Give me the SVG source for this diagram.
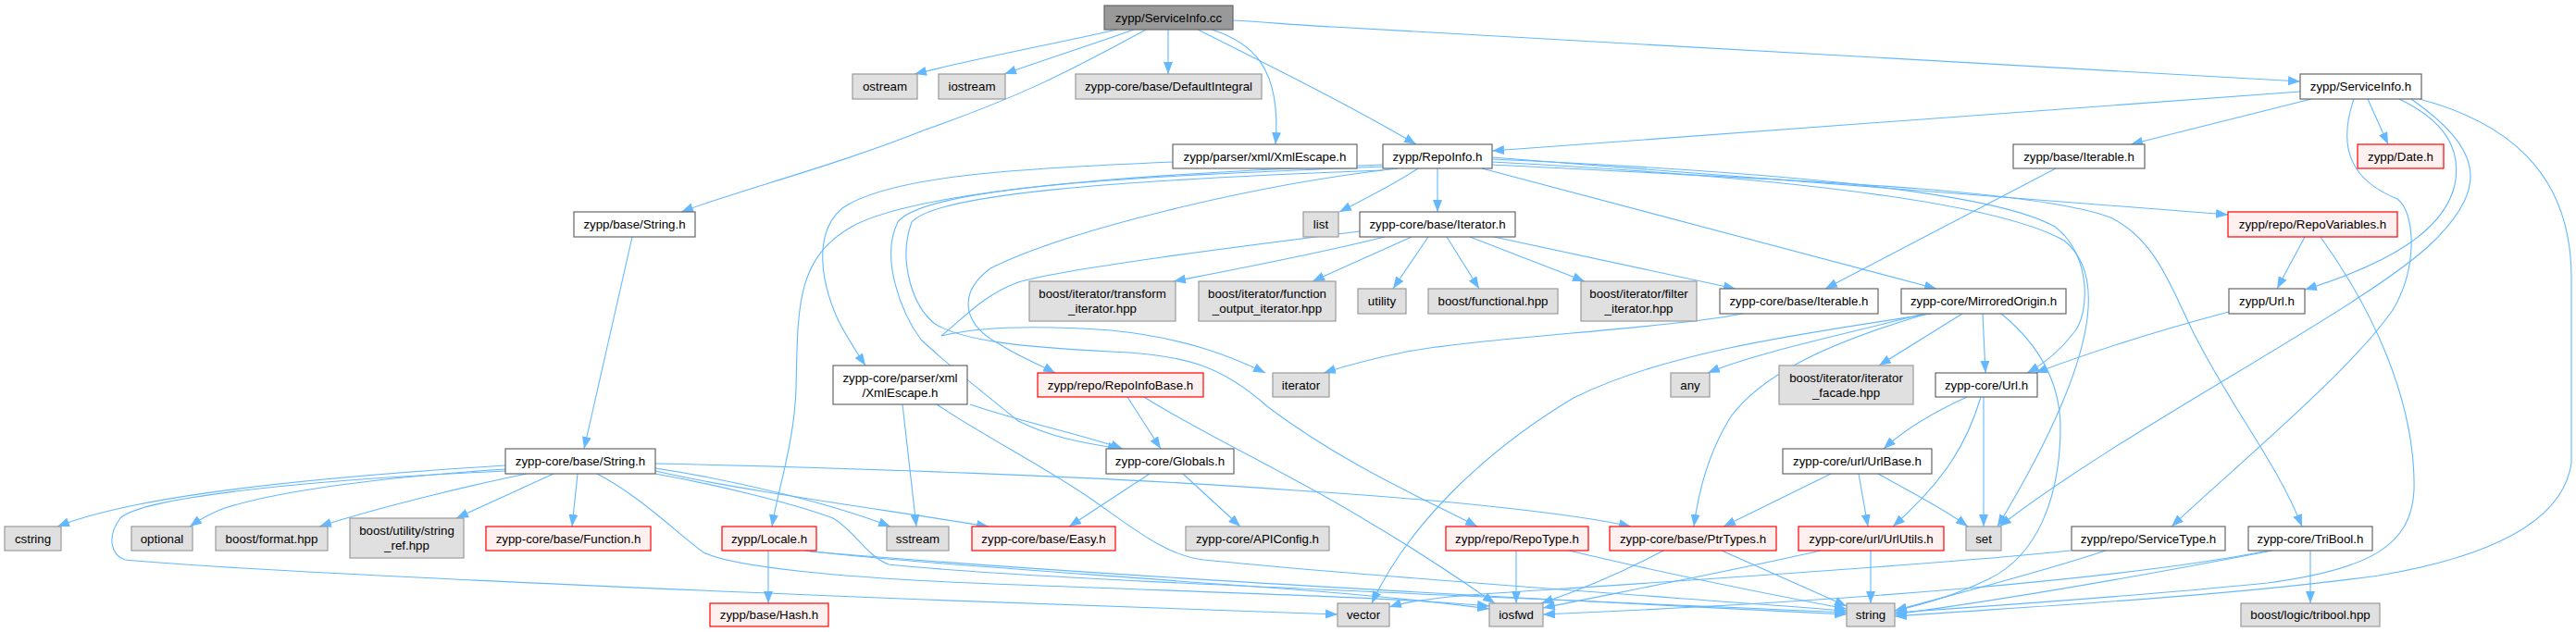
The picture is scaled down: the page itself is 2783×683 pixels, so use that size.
<svg xmlns="http://www.w3.org/2000/svg" width="2783" height="683" viewBox="0 0 2783 683">
<style>
.e{fill:none;stroke:#63b8ff;stroke-width:1.1;marker-end:url(#ah)}
.n{fill:#ffffff;stroke:#666666;stroke-width:1.2}
.r{fill:#fff0f0;stroke:#ff0000;stroke-width:1.2}
.g{fill:#e0e0e0;stroke:#999999;stroke-width:1.2}
.root{fill:#999999;stroke:#666666;stroke-width:1.2}
text{font-family:"Liberation Sans",Arial,Helvetica,sans-serif;font-size:13.3px;fill:#000000;text-anchor:middle}
</style>
<defs>
<marker id="ah" markerUnits="userSpaceOnUse" markerWidth="13" markerHeight="10" refX="13" refY="5" orient="auto">
<path d="M0,0 L13,5 L0,10 z" fill="#63b8ff"/>
</marker>
</defs>
<rect x="0" y="0" width="2783" height="683" fill="#ffffff"/>
<g id="edges">
<path class="e" d="M1207,32 C1150,45 1060,62 988,80"/>
<path class="e" d="M1225,32 C1180,48 1130,64 1085,80"/>
<path class="e" d="M1262,32 L1262,80"/>
<path class="e" d="M1238,32 C1150,80 1100,105 1000,140 C900,180 800,205 736,229"/>
<path class="e" d="M1309,32 C1350,45 1385,70 1378,156"/>
<path class="e" d="M1294,32 C1380,75 1460,115 1530,156"/>
<path class="e" d="M1332,22 C1370,24 1400,27 1440,29 L2485,88"/>
<path class="e" d="M2485,99 L1612,163"/>
<path class="e" d="M2497,107 L2302,156"/>
<path class="e" d="M2558,107 L2580,156"/>
<path class="e" d="M2592,107 C2640,130 2660,160 2652,200 C2640,250 2580,285 2490,313"/>
<path class="e" d="M2605,107 C2680,160 2690,200 2630,260 C2560,330 2300,460 2160,569"/>
<path class="e" d="M2543,107 C2525,160 2540,195 2590,215 C2610,230 2612,290 2585,335 C2540,400 2420,500 2346,569"/>
<path class="e" d="M2614,107 C2700,130 2778,180 2778,300 L2778,500 C2770,560 2700,600 2570,622 C2400,645 2200,655 2047,666"/>
<path class="e" d="M1532,182 C1505,200 1480,212 1447,229"/>
<path class="e" d="M1553,182 L1553,229"/>
<path class="e" d="M1601,182 L2092,312"/>
<path class="e" d="M1612,170 L2407,232"/>
<path class="e" d="M1612,172 C1900,185 2150,205 2220,245 C2260,275 2258,340 2240,360 C2225,380 2210,392 2190,403"/>
<path class="e" d="M1612,175 C1900,190 2150,215 2230,260 C2280,300 2260,400 2158,569"/>
<path class="e" d="M1612,178 C1950,195 2200,205 2280,235 C2330,260 2345,310 2370,360 C2410,440 2460,500 2487,569"/>
<path class="e" d="M1494,178 C1300,185 1000,200 920,245 C860,280 862,330 860,420 C858,480 840,530 834,569"/>
<path class="e" d="M1494,180 C1250,190 1000,200 970,240 C950,280 975,340 995,367 C1030,400 1070,430 1100,455 C1140,475 1180,480 1210,485"/>
<path class="e" d="M1510,182 C1350,200 1150,250 1070,290 C1030,320 1045,355 1080,372 C1100,385 1125,395 1140,403"/>
<path class="e" d="M1494,184 C1200,195 1010,210 985,240 C970,280 985,330 1010,350 C1040,368 1100,375 1200,380 C1280,383 1320,395 1370,440 C1450,500 1530,535 1596,569"/>
<path class="e" d="M1496,256 C1420,275 1340,290 1268,304"/>
<path class="e" d="M1525,256 L1418,304"/>
<path class="e" d="M1543,256 L1505,312"/>
<path class="e" d="M1563,256 L1598,312"/>
<path class="e" d="M1588,256 L1712,304"/>
<path class="e" d="M1614,256 L1875,312"/>
<path class="e" d="M1469,250 C1350,265 1150,290 1100,305 C1060,320 1040,345 1017,363 C1050,355 1100,350 1200,357 C1280,365 1330,385 1367,403"/>
<path class="e" d="M2221,182 L1972,312"/>
<path class="e" d="M1883,339 C1800,355 1600,365 1520,380 C1480,388 1455,395 1430,403"/>
<path class="e" d="M2490,256 L2460,312"/>
<path class="e" d="M2507,256 C2560,330 2610,430 2608,530 C2605,590 2560,615 2450,630 C2300,645 2150,655 2047,662"/>
<path class="e" d="M2408,337 C2340,355 2260,380 2199,403"/>
<path class="e" d="M2078,339 C2000,360 1900,380 1845,403"/>
<path class="e" d="M2120,339 L2030,395"/>
<path class="e" d="M2142,339 L2145,403"/>
<path class="e" d="M2087,339 C1950,360 1800,380 1700,430 C1600,490 1520,570 1482,652"/>
<path class="e" d="M2082,339 C1960,375 1900,410 1870,450 C1845,490 1835,530 1830,569"/>
<path class="e" d="M2162,339 C2200,370 2225,410 2226,460 C2226,540 2200,600 2150,625 C2110,645 2070,655 2047,660"/>
<path class="e" d="M2125,429 C2090,445 2060,462 2035,485"/>
<path class="e" d="M2143,429 L2143,569"/>
<path class="e" d="M2140,429 C2125,480 2100,520 2045,569"/>
<path class="e" d="M1978,512 L1862,569"/>
<path class="e" d="M2008,512 L2018,569"/>
<path class="e" d="M2029,512 C2070,535 2100,550 2126,569"/>
<path class="e" d="M1797,595 C1750,620 1700,640 1665,652"/>
<path class="e" d="M1860,595 L1995,655"/>
<path class="e" d="M1638,595 L1638,652"/>
<path class="e" d="M1695,595 C1800,620 1900,640 1995,658"/>
<path class="e" d="M2021,595 L2021,652"/>
<path class="e" d="M1967,595 C1880,615 1750,640 1667,657"/>
<path class="e" d="M2237,595 C2100,610 1750,632 1600,642 C1550,646 1520,650 1501,656"/>
<path class="e" d="M2275,595 C2200,620 2100,645 2047,660"/>
<path class="e" d="M2451,595 C2300,625 2000,650 1667,664"/>
<path class="e" d="M2455,595 C2300,625 2150,650 2047,664"/>
<path class="e" d="M2496,595 L2496,652"/>
<path class="e" d="M1218,429 L1254,485"/>
<path class="e" d="M1236,429 C1300,470 1400,515 1480,565 C1540,600 1590,635 1615,652"/>
<path class="e" d="M1242,512 L1155,569"/>
<path class="e" d="M1278,512 L1340,569"/>
<path class="e" d="M975,437 L990,569"/>
<path class="e" d="M1048,437 C1100,455 1170,470 1213,485"/>
<path class="e" d="M1012,437 C1060,470 1130,505 1180,540 C1230,575 1260,600 1300,605 C1500,625 1800,645 1995,660"/>
<path class="e" d="M1267,175 C1100,182 960,190 910,225 C880,250 885,300 905,345 C915,365 925,380 935,395"/>
<path class="e" d="M683,256 L631,485"/>
<path class="e" d="M546,503 C400,512 250,525 150,545 C110,553 85,560 62,569"/>
<path class="e" d="M546,507 C420,515 300,530 240,550 C225,556 215,562 205,569"/>
<path class="e" d="M569,512 C520,522 420,545 345,569"/>
<path class="e" d="M598,512 L493,560"/>
<path class="e" d="M624,512 L618,569"/>
<path class="e" d="M708,509 C800,530 950,550 1068,569"/>
<path class="e" d="M708,506 C800,520 900,545 962,569"/>
<path class="e" d="M708,501 C900,505 1200,515 1400,530 C1560,540 1700,555 1762,569"/>
<path class="e" d="M546,509 C300,520 150,540 130,560 C115,580 120,600 135,605 C300,620 800,640 1000,648 C1200,655 1350,660 1445,664"/>
<path class="e" d="M645,512 C690,535 730,575 760,597 C790,612 900,625 1100,632 C1300,640 1500,645 1609,655"/>
<path class="e" d="M708,512 C780,525 860,545 900,560 C925,575 935,600 960,610 C1100,625 1500,640 1995,662"/>
<path class="e" d="M830,595 L830,652"/>
<path class="e" d="M870,595 C950,605 1100,615 1300,630 C1450,640 1550,650 1609,658"/>
<path class="e" d="M875,596 C1100,615 1500,640 1995,664"/>
</g>
<g id="node1"><rect class="root" x="1193" y="6" width="139" height="26"/><text x="1262.5" y="23.7">zypp/ServiceInfo.cc</text></g>
<g id="node2"><rect class="g" x="921" y="80" width="70" height="27"/><text x="956" y="98.2">ostream</text></g>
<g id="node3"><rect class="g" x="1014" y="80" width="72" height="27"/><text x="1050" y="98.2">iostream</text></g>
<g id="node4"><rect class="g" x="1162" y="80" width="201" height="27"/><text x="1262.5" y="98.2">zypp-core/base/DefaultIntegral</text></g>
<g id="node5"><rect class="n" x="2485" y="80" width="131" height="27"/><text x="2550.5" y="98.2">zypp/ServiceInfo.h</text></g>
<g id="node6"><rect class="n" x="1267" y="156" width="199" height="26"/><text x="1366.5" y="173.7">zypp/parser/xml/XmlEscape.h</text></g>
<g id="node7"><rect class="n" x="1494" y="156" width="118" height="26"/><text x="1553" y="173.7">zypp/RepoInfo.h</text></g>
<g id="node8"><rect class="n" x="2175" y="156" width="142" height="26"/><text x="2246" y="173.7">zypp/base/Iterable.h</text></g>
<g id="node9"><rect class="r" x="2547" y="156" width="93" height="26"/><text x="2593.5" y="173.7">zypp/Date.h</text></g>
<g id="node10"><rect class="n" x="620" y="229" width="131" height="27"/><text x="685.5" y="247.2">zypp/base/String.h</text></g>
<g id="node11"><rect class="g" x="1408" y="229" width="38" height="27"/><text x="1427" y="247.2">list</text></g>
<g id="node12"><rect class="n" x="1469" y="229" width="168" height="27"/><text x="1553" y="247.2">zypp-core/base/Iterator.h</text></g>
<g id="node13"><rect class="r" x="2407" y="229" width="183" height="27"/><text x="2498.5" y="247.2">zypp/repo/RepoVariables.h</text></g>
<g id="node14"><rect class="g" x="1112" y="304" width="158" height="43"/><text x="1191" y="322.2">boost/iterator/transform</text><text x="1191" y="338.2">_iterator.hpp</text></g>
<g id="node15"><rect class="g" x="1295" y="304" width="148" height="43"/><text x="1369" y="322.2">boost/iterator/function</text><text x="1369" y="338.2">_output_iterator.hpp</text></g>
<g id="node16"><rect class="g" x="1467" y="312" width="52" height="27"/><text x="1493" y="330.2">utility</text></g>
<g id="node17"><rect class="g" x="1543" y="312" width="140" height="27"/><text x="1613" y="330.2">boost/functional.hpp</text></g>
<g id="node18"><rect class="g" x="1708" y="304" width="125" height="43"/><text x="1770.5" y="322.2">boost/iterator/filter</text><text x="1770.5" y="338.2">_iterator.hpp</text></g>
<g id="node19"><rect class="n" x="1858" y="312" width="171" height="27"/><text x="1943.5" y="330.2">zypp-core/base/Iterable.h</text></g>
<g id="node20"><rect class="n" x="2054" y="312" width="178" height="27"/><text x="2143" y="330.2">zypp-core/MirroredOrigin.h</text></g>
<g id="node21"><rect class="n" x="2408" y="312" width="82" height="27"/><text x="2449" y="330.2">zypp/Url.h</text></g>
<g id="node22"><rect class="n" x="900" y="395" width="145" height="42"/><text x="972.5" y="412.7">zypp-core/parser/xml</text><text x="972.5" y="428.7">/XmlEscape.h</text></g>
<g id="node23"><rect class="r" x="1121" y="403" width="179" height="26"/><text x="1210.5" y="420.7">zypp/repo/RepoInfoBase.h</text></g>
<g id="node24"><rect class="g" x="1375" y="403" width="61" height="26"/><text x="1405.5" y="420.7">iterator</text></g>
<g id="node25"><rect class="g" x="1805" y="403" width="42" height="26"/><text x="1826" y="420.7">any</text></g>
<g id="node26"><rect class="g" x="1922" y="395" width="145" height="42"/><text x="1994.5" y="412.7">boost/iterator/iterator</text><text x="1994.5" y="428.7">_facade.hpp</text></g>
<g id="node27"><rect class="n" x="2091" y="403" width="110" height="26"/><text x="2146" y="420.7">zypp-core/Url.h</text></g>
<g id="node28"><rect class="n" x="546" y="485" width="162" height="27"/><text x="627" y="503.2">zypp-core/base/String.h</text></g>
<g id="node29"><rect class="n" x="1195" y="485" width="138" height="27"/><text x="1264" y="503.2">zypp-core/Globals.h</text></g>
<g id="node30"><rect class="n" x="1926" y="485" width="161" height="27"/><text x="2006.5" y="503.2">zypp-core/url/UrlBase.h</text></g>
<g id="node31"><rect class="g" x="5" y="569" width="61" height="26"/><text x="35.5" y="586.7">cstring</text></g>
<g id="node32"><rect class="g" x="142" y="569" width="66" height="26"/><text x="175" y="586.7">optional</text></g>
<g id="node33"><rect class="g" x="233" y="569" width="121" height="26"/><text x="293.5" y="586.7">boost/format.hpp</text></g>
<g id="node34"><rect class="g" x="378" y="560" width="123" height="43"/><text x="439.5" y="578.2">boost/utility/string</text><text x="439.5" y="594.2">_ref.hpp</text></g>
<g id="node35"><rect class="r" x="525" y="569" width="178" height="26"/><text x="614" y="586.7">zypp-core/base/Function.h</text></g>
<g id="node36"><rect class="r" x="780" y="569" width="102" height="26"/><text x="831" y="586.7">zypp/Locale.h</text></g>
<g id="node37"><rect class="g" x="958" y="569" width="67" height="26"/><text x="991.5" y="586.7">sstream</text></g>
<g id="node38"><rect class="r" x="1050" y="569" width="155" height="26"/><text x="1127.5" y="586.7">zypp-core/base/Easy.h</text></g>
<g id="node39"><rect class="g" x="1281" y="569" width="155" height="26"/><text x="1358.5" y="586.7">zypp-core/APIConfig.h</text></g>
<g id="node40"><rect class="r" x="1562" y="569" width="154" height="26"/><text x="1639" y="586.7">zypp/repo/RepoType.h</text></g>
<g id="node41"><rect class="r" x="1739" y="569" width="180" height="26"/><text x="1829" y="586.7">zypp-core/base/PtrTypes.h</text></g>
<g id="node42"><rect class="r" x="1943" y="569" width="157" height="26"/><text x="2021.5" y="586.7">zypp-core/url/UrlUtils.h</text></g>
<g id="node43"><rect class="g" x="2124" y="569" width="38" height="26"/><text x="2143" y="586.7">set</text></g>
<g id="node44"><rect class="n" x="2238" y="569" width="166" height="26"/><text x="2321" y="586.7">zypp/repo/ServiceType.h</text></g>
<g id="node45"><rect class="n" x="2429" y="569" width="134" height="26"/><text x="2496" y="586.7">zypp-core/TriBool.h</text></g>
<g id="node46"><rect class="r" x="767" y="652" width="128" height="25"/><text x="831" y="669.2">zypp/base/Hash.h</text></g>
<g id="node47"><rect class="g" x="1445" y="652" width="56" height="25"/><text x="1473" y="669.2">vector</text></g>
<g id="node48"><rect class="g" x="1609" y="652" width="58" height="25"/><text x="1638" y="669.2">iosfwd</text></g>
<g id="node49"><rect class="g" x="1995" y="652" width="52" height="25"/><text x="2021" y="669.2">string</text></g>
<g id="node50"><rect class="g" x="2421" y="652" width="150" height="25"/><text x="2496" y="669.2">boost/logic/tribool.hpp</text></g>
</svg>
